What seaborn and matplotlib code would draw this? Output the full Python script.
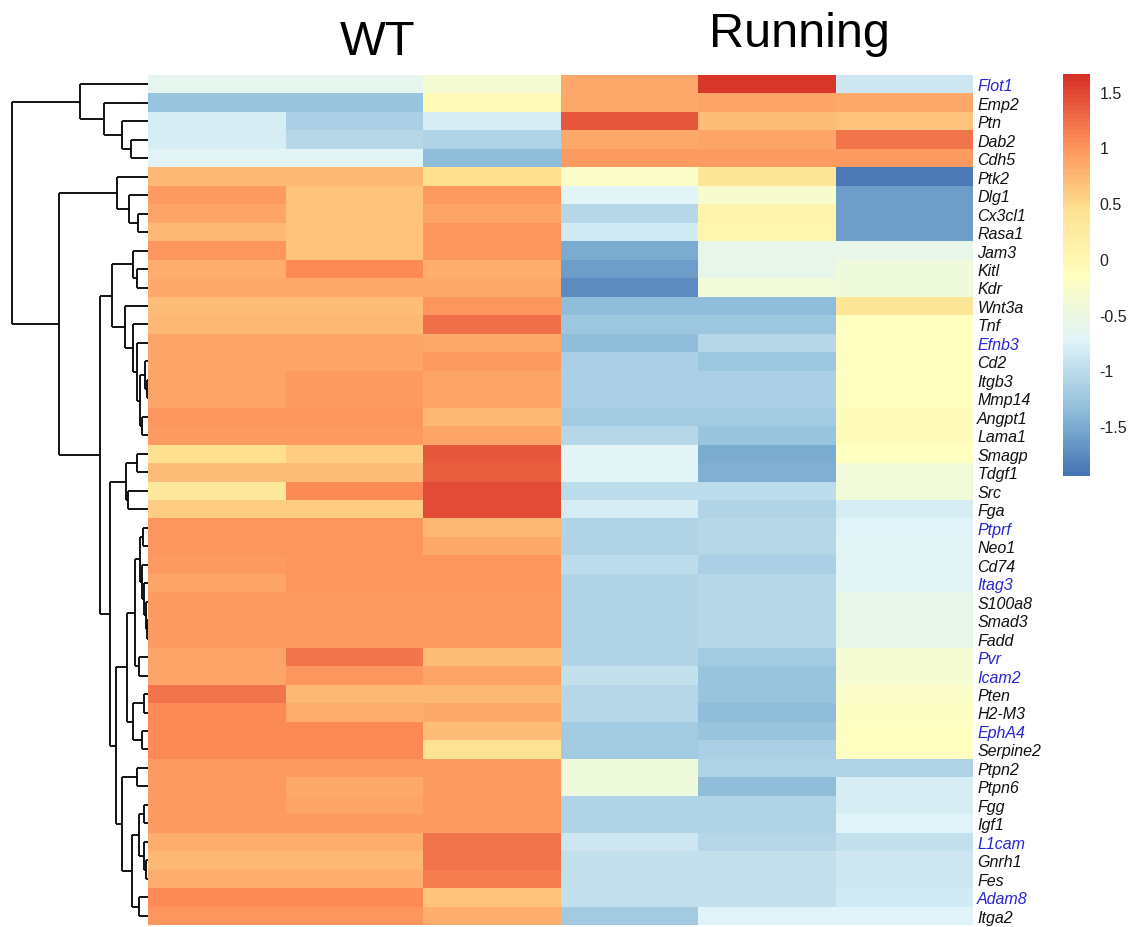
import numpy as np
import pandas as pd
import matplotlib
matplotlib.use("Agg")
import matplotlib.pyplot as plt
import seaborn as sns
from matplotlib.colors import LinearSegmentedColormap

plt.rcParams['font.family'] = ['Liberation Sans', 'DejaVu Sans']

genes = ["Flot1", "Emp2", "Ptn", "Dab2", "Cdh5", "Ptk2", "Dlg1", "Cx3cl1", "Rasa1",
         "Jam3", "Kitl", "Kdr", "Wnt3a", "Tnf", "Efnb3", "Cd2", "Itgb3", "Mmp14",
         "Angpt1", "Lama1", "Smagp", "Tdgf1", "Src", "Fga", "Ptprf", "Neo1", "Cd74",
         "Itag3", "S100a8", "Smad3", "Fadd", "Pvr", "Icam2", "Pten", "H2-M3", "EphA4",
         "Serpine2", "Ptpn2", "Ptpn6", "Fgg", "Igf1", "L1cam", "Gnrh1", "Fes", "Adam8",
         "Itga2"]
blue_genes = ["Flot1", "Efnb3", "Ptprf", "Itag3", "Pvr", "Icam2", "EphA4", "L1cam", "Adam8"]

samples = ["WT1", "WT2", "WT3", "Run1", "Run2", "Run3"]
group_labels = ["WT", "Running"]

wt1 = [-0.65, -1.3, -0.8, -0.8, -0.7, 0.75, 0.95, 0.9, 0.75, 1.0, 0.8, 0.85, 0.7, 0.75,
       0.9, 0.9, 0.9, 0.9, 1.0, 0.95, 0.45, 0.7, 0.3, 0.6, 1.0, 1.0, 0.95, 0.9, 0.95,
       0.95, 0.95, 0.9, 0.9, 1.2, 1.05, 1.05, 1.05, 0.95, 0.95, 0.95, 0.95, 0.8, 0.75,
       0.8, 1.05, 1.0]
wt2 = [-0.65, -1.3, -1.15, -1.05, -0.7, 0.75, 0.65, 0.65, 0.65, 0.65, 1.05, 0.85, 0.7,
       0.75, 0.9, 0.9, 0.95, 0.95, 1.0, 0.95, 0.6, 0.7, 1.05, 0.6, 1.0, 1.0, 1.0, 1.0,
       0.95, 0.95, 0.95, 1.2, 1.0, 0.75, 0.8, 1.05, 1.05, 0.95, 0.85, 0.9, 0.95, 0.8,
       0.75, 0.8, 1.05, 1.0]
wt3 = [-0.35, -0.05, -0.8, -1.1, -1.35, 0.45, 0.95, 0.9, 1.0, 1.0, 0.8, 0.85, 1.0, 1.25,
       0.85, 0.95, 0.9, 0.9, 0.75, 0.9, 1.4, 1.35, 1.45, 1.45, 0.75, 0.85, 1.0, 1.0,
       0.95, 0.95, 0.95, 0.7, 0.9, 0.75, 0.85, 0.7, 0.4, 0.95, 0.95, 0.95, 0.95, 1.2,
       1.2, 1.15, 0.65, 0.8]
run1 = [0.85, 0.85, 1.4, 0.85, 0.95, -0.25, -0.7, -1.05, -0.85, -1.5, -1.6, -1.75, -1.35,
        -1.25, -1.35, -1.15, -1.15, -1.15, -1.2, -1.05, -0.7, -0.7, -1.0, -0.8, -1.1,
        -1.1, -1.0, -1.1, -1.1, -1.1, -1.1, -1.1, -0.95, -1.05, -1.05, -1.2, -1.2,
        -0.45, -0.45, -1.1, -1.1, -0.9, -0.95, -0.95, -0.95, -1.2]
run2 = [1.6, 0.9, 0.7, 0.9, 0.95, 0.35, -0.3, 0.1, 0.05, -0.6, -0.6, -0.4, -1.35, -1.25,
        -1.05, -1.25, -1.15, -1.15, -1.2, -1.3, -1.5, -1.45, -1.0, -1.1, -1.05, -1.05,
        -1.15, -1.05, -1.05, -1.05, -1.05, -1.2, -1.3, -1.3, -1.35, -1.3, -1.15, -1.1,
        -1.35, -1.1, -1.1, -1.05, -0.95, -0.95, -0.95, -0.75]
run3 = [-0.9, 0.85, 0.65, 1.2, 0.95, -1.9, -1.6, -1.6, -1.6, -0.6, -0.45, -0.45, 0.35,
        -0.15, -0.15, -0.15, -0.15, -0.15, -0.1, -0.1, -0.15, -0.4, -0.4, -0.8, -0.75,
        -0.7, -0.7, -0.7, -0.6, -0.6, -0.6, -0.35, -0.35, -0.25, -0.2, -0.15, -0.15,
        -1.1, -0.8, -0.8, -0.75, -0.95, -0.9, -0.9, -0.85, -0.75]

# Row dendrogram: (node, left child, right child, merge height)
merges = [
    ("dc", "Dab2", "Cdh5", 17), ("pdc", "Ptn", "dc", 26), ("epdc", "Emp2", "pdc", 44),
    ("T", "Flot1", "epdc", 68),
    ("cr", "Cx3cl1", "Rasa1", 10), ("dcr", "Dlg1", "cr", 19), ("A", "Ptk2", "dcr", 31),
    ("kk", "Kitl", "Kdr", 11), ("J", "Jam3", "kk", 15),
    ("im", "Itgb3", "Mmp14", 1.5), ("cim", "Cd2", "im", 3), ("al", "Angpt1", "Lama1", 6),
    ("e1", "cim", "al", 8), ("e2", "Efnb3", "e1", 11), ("e3", "Tnf", "e2", 15),
    ("W", "Wnt3a", "e3", 23), ("JW", "J", "W", 36),
    ("st", "Smagp", "Tdgf1", 11), ("sf", "Src", "Fga", 20), ("S", "st", "sf", 22),
    ("pn", "Ptprf", "Neo1", 5), ("sm", "Smad3", "Fadd", 1.5), ("s8", "S100a8", "sm", 2.5),
    ("it", "Itag3", "s8", 4), ("cd", "Cd74", "it", 6), ("P", "pn", "cd", 8),
    ("pi", "Pvr", "Icam2", 9), ("P2", "P", "pi", 13),
    ("ph", "Pten", "H2-M3", 4), ("es", "EphA4", "Serpine2", 6), ("PH", "ph", "es", 15),
    ("mid", "P2", "PH", 21),
    ("pp", "Ptpn2", "Ptpn6", 11), ("fi", "Fgg", "Igf1", 4), ("gf", "Gnrh1", "Fes", 2),
    ("lgf", "L1cam", "gf", 4.5), ("fl", "fi", "lgf", 9), ("ai", "Adam8", "Itga2", 9),
    ("fa", "fl", "ai", 16), ("bot", "pp", "fa", 26), ("C", "mid", "bot", 32),
    ("SC", "S", "C", 38), ("B", "JW", "SC", 48), ("AB", "A", "B", 89),
    ("root", "T", "AB", 136),
]

df = pd.DataFrame({"WT1": wt1, "WT2": wt2, "WT3": wt3,
                   "Run1": run1, "Run2": run2, "Run3": run3}, index=genes)[samples]

W_PX, H_PX = 1135, 928
fig = plt.figure(figsize=(W_PX / 100, H_PX / 100), dpi=100)
fig.patch.set_facecolor("white")

def fx(px):
    return px / W_PX

def fy(px):
    return 1 - px / H_PX

hm_left, hm_right, hm_top, hm_bot = 148, 973, 76, 926
ax = fig.add_axes([fx(hm_left), fy(hm_bot), fx(hm_right - hm_left), (hm_bot - hm_top) / H_PX])
cax = fig.add_axes([fx(1063), fy(477), fx(27), (477 - 75) / H_PX])
dax = fig.add_axes([fx(10), fy(hm_bot), fx(hm_left - 10), (hm_bot - hm_top) / H_PX])

cmap = LinearSegmentedColormap.from_list(
    "ph", ["#4575B4", "#91BFDB", "#E0F3F8", "#FFFFBF", "#FEE090", "#FC8D59", "#D73027"], N=100)

sns.heatmap(df, ax=ax, cmap=cmap, vmin=-1.95, vmax=1.66, cbar_ax=cax,
            xticklabels=False, yticklabels=True, linewidths=0)
ax.set_ylabel("")
ax.set_xlabel("")
ax.yaxis.tick_right()
ax.tick_params(axis="y", length=0, pad=3)
for lab in ax.get_yticklabels():
    lab.set_rotation(0)
    lab.set_fontstyle("italic")
    lab.set_fontsize(11.5)
    lab.set_color("#2626d0" if lab.get_text() in blue_genes else "#111111")

# colorbar
cb = ax.collections[0].colorbar
cb.outline.set_visible(False)
ticks = [-1.5, -1, -0.5, 0, 0.5, 1, 1.5]
cb.set_ticks(ticks)
cb.set_ticklabels([("%g" % t).replace("\u2212", "-") for t in ticks])
cax.tick_params(length=0, pad=7, labelsize=11.5, labelcolor="#222222")

# dendrogram
pos = {g: i + 0.5 for i, g in enumerate(genes)}
hgt = {g: 0.0 for g in genes}
for node, l, r, h in merges:
    yl, yr = pos[l], pos[r]
    dax.plot([h, h], [yl, yr], color="black", lw=1.3, solid_capstyle="butt", clip_on=False)
    dax.plot([hgt[l], h], [yl, yl], color="black", lw=1.3, solid_capstyle="butt", clip_on=False)
    dax.plot([hgt[r], h], [yr, yr], color="black", lw=1.3, solid_capstyle="butt", clip_on=False)
    pos[node] = (yl + yr) / 2
    hgt[node] = h
dax.set_xlim(138, 0)
dax.set_ylim(len(genes), 0)
dax.axis("off")

# group titles
fig.text(fx(378), fy(55), group_labels[0], ha="center", va="baseline", fontsize=35)
fig.text(fx(799), fy(47), group_labels[1], ha="center", va="baseline", fontsize=35)

fig.savefig("out.png", dpi=100, facecolor="white")
